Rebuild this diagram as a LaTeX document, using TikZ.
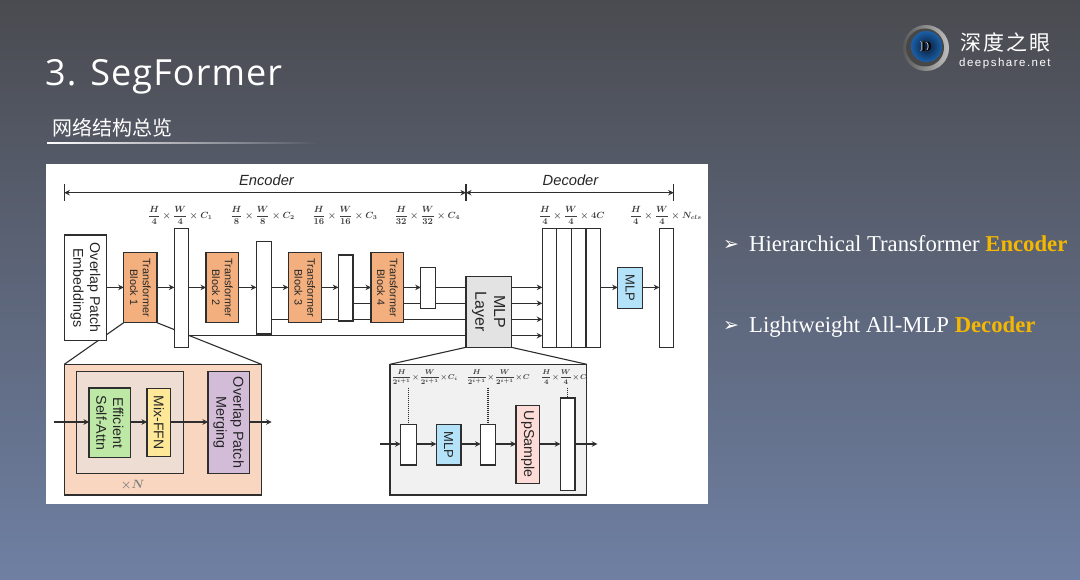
\documentclass[tikz,border=0pt]{standalone}
\usepackage{fontspec}
\usepackage{graphicx}
\setmainfont{Liberation Sans}
\newfontfamily\cjkfont{Noto Sans CJK SC}
\newfontfamily\serifface{Liberation Serif}
\newfontfamily\symface{DejaVu Sans}
\newfontfamily\titleface[LetterSpace=3]{Open Sans}
\newfontfamily\netface[LetterSpace=13]{Liberation Sans}
\newfontfamily\logoface[LetterSpace=10]{Noto Sans CJK SC}
\usetikzlibrary{arrows.meta,calc,backgrounds}
\AtBeginDocument{\boldmath}
\definecolor{bgtop}{HTML}{4A4B50}
\definecolor{bgbot}{HTML}{6F80A3}
\definecolor{ln}{HTML}{2E2E2E}
\definecolor{blockc}{HTML}{F3AF7E}
\definecolor{peach}{HTML}{F9D6BF}
\definecolor{innerc}{HTML}{EEDDD2}
\definecolor{greenc}{HTML}{BDE8A6}
\definecolor{yellowc}{HTML}{FFE999}
\definecolor{purplec}{HTML}{D3BCD8}
\definecolor{bluec}{HTML}{B3E2F9}
\definecolor{pinkc}{HTML}{FDDCD7}
\definecolor{layerc}{HTML}{E3E3E3}
\definecolor{panelc}{HTML}{F1F1F1}
\definecolor{hl}{HTML}{F5B800}
\definecolor{eyeo}{HTML}{1A5FA8}
\definecolor{eyei}{HTML}{0A1A33}
\tikzset{
  bxs/.style={draw=ln,line width=1.2pt,inner sep=0pt,outer sep=0pt,fill=white},
  txs/.style={rotate=-90,align=center,inner sep=0pt,text=black!85},
  ar/.style={draw=ln,line width=1.1pt,-{Stealth[length=5.5pt,width=5.5pt]}},
  pl/.style={draw=ln,line width=1.1pt},
  dots/.style={draw=ln,line width=1.1pt,dash pattern=on 1pt off 1pt},
  flab/.style={inner sep=0pt,text=black!75},
  ttl/.style={text=white,inner sep=0pt,anchor=base west},
  rtxt/.style={text=white,inner sep=0pt,anchor=base west,font=\serifface\fontsize{22.7}{26}\selectfont},
  bul/.style={text=white,inner sep=0pt,anchor=base west,font=\symface\fontsize{19}{22}\selectfont}
}
\newcommand{\bx}[8]{%
  \pgfmathsetmacro{\bxw}{#4-#2}\pgfmathsetmacro{\bxh}{#5-#3}%
  \pgfmathsetmacro{\bxcx}{(#2+#4)/2}\pgfmathsetmacro{\bxcy}{(#3+#5)/2}%
  \node[bxs,#6,minimum width=\bxw pt,minimum height=\bxh pt] (#1) at (\bxcx,\bxcy) {};%
  \if\relax\detokenize{#8}\relax\else
    \pgfmathsetmacro{\fsb}{#7*1.18}%
    \node[txs,font=\fontsize{#7}{\fsb}\selectfont] (#1T) at (\bxcx,\bxcy) {#8};\fi}
\newcommand{\lab}[4]{\node[flab] (#1) at (#2,#3) {\fontsize{8.6}{10}\selectfont$\displaystyle #4$};}
\newcommand{\labs}[4]{\node[flab] (#1) at (#2,#3) {\fontsize{7.2}{9}\selectfont$\displaystyle #4$};}
\begin{document}
\begin{tikzpicture}[x=1pt,y=-1pt]
\useasboundingbox (0,0) rectangle (1080,580);
\begin{pgfonlayer}{background}
\shade[top color=bgtop,bottom color=bgbot] (0,0) rectangle (1080,580);
\fill[white] (46,164) rectangle (708,504);
\end{pgfonlayer}
% header
\node[ttl,font=\titleface\fontsize{36}{40}\selectfont] (title) at (45,86) {3. SegFormer};
\node[ttl,font=\cjkfont\fontsize{20}{24}\selectfont] (sub) at (52,136) {网络结构总览};
\shade[left color=white,right color=bgtop!78!bgbot] (47,143) rectangle (320,144);
% logo
\shade[left color=black!65,right color=black!25] (926,48) circle (23);
\fill[black!72] (925,47.5) circle (19);
\shade[inner color=eyei,outer color=eyeo] (926.5,46.5) circle (15.5);
\node[inner sep=0pt,font=\serifface\bfseries\fontsize{15}{16}\selectfont,text=white] (logoDw) at (925.6,47) {D};
\node[inner sep=0pt,font=\serifface\bfseries\fontsize{15}{16}\selectfont,text=black] (logoD) at (926.2,47) {D};
\node[ttl,font=\logoface\fontsize{21}{25}\selectfont,anchor=west] (lg1) at (960,42) {深度之眼};
\node[ttl,font=\netface\fontsize{11.5}{14}\selectfont,anchor=west] (lg2) at (959,63.5) {deepshare.net};
% right text
\node[bul] (b1) at (723,251) {➢};
\node[rtxt] (r1) at (749,251.5) {Hierarchical Transformer {\bfseries\color{hl}Encoder}};
\node[bul] (b2) at (723,332) {➢};
\node[rtxt] (r2) at (749,332.5) {Lightweight All-MLP {\bfseries\color{hl}Decoder}};
% top row
\bx{ope}{64.3}{235}{106.3}{340.7}{}{14.2}{Overlap Patch\\Embeddings}
\bx{tb1}{123.7}{252.3}{157}{322.7}{fill=blockc}{10.8}{Transformer\\Block 1}
\bx{bar1}{174.3}{228.3}{188.7}{347.3}{}{1}{}
\bx{tb2}{206}{252.3}{238.7}{322.7}{fill=blockc}{10.8}{Transformer\\Block 2}
\bx{bar2}{256.3}{241.7}{271.7}{334}{}{1}{}
\bx{tb3}{288.3}{252.3}{321.3}{322.7}{fill=blockc}{10.8}{Transformer\\Block 3}
\bx{bar3}{338.3}{255}{353}{321}{}{1}{}
\bx{tb4}{371}{252.3}{403.7}{322.7}{fill=blockc}{10.8}{Transformer\\Block 4}
\bx{bar4}{420.7}{267.7}{435.3}{308.3}{}{1}{}
\bx{mlpl}{466}{276.7}{511.3}{347.3}{fill=layerc}{16}{MLP\\Layer}
\bx{st1}{542.3}{228.3}{556.7}{347.3}{}{1}{}
\bx{st2}{556.7}{228.3}{571.3}{347.3}{}{1}{}
\bx{st3}{571.3}{228.3}{586}{347.3}{}{1}{}
\bx{st4}{586}{228.3}{600.3}{347.3}{}{1}{}
\bx{mlpt}{617.7}{267.7}{642.3}{308.3}{fill=bluec}{13}{MLP}
\bx{fin}{659.3}{228.3}{673.7}{347.3}{}{1}{}
% span arrows
\coordinate (ya) at (0,192.7);
\coordinate (t1a) at (64.3,184); \coordinate (t1b) at (64.3,201);
\coordinate (t2a) at (466,184); \coordinate (t2b) at (466,201);
\coordinate (t3a) at (673.7,184); \coordinate (t3b) at (673.7,201);
\draw[pl] (t1a)--(t1b); \draw[pl] (t2a)--(t2b); \draw[pl] (t3a)--(t3b);
\draw[pl,{Stealth[length=5.5pt,width=5.5pt]}-{Stealth[length=5.5pt,width=5.5pt]}] (t1a|-ya)--(t2a|-ya);
\draw[pl,{Stealth[length=5.5pt,width=5.5pt]}-{Stealth[length=5.5pt,width=5.5pt]}] (t2a|-ya)--(t3a|-ya);
\node[inner sep=0pt,text=black!85,font=\itshape\fontsize{14.7}{16}\selectfont] (enc) at (266.5,180.5) {Encoder};
\node[inner sep=0pt,text=black!85,font=\itshape\fontsize{14.7}{16}\selectfont] (dec) at (570.5,180.5) {Decoder};
% dimension labels
\lab{l1}{180.3}{215.7}{\frac{H}{4}\times\frac{W}{4}\times C_1}
\lab{l2}{262.7}{215.7}{\frac{H}{8}\times\frac{W}{8}\times C_2}
\lab{l3}{345}{215.7}{\frac{H}{16}\times\frac{W}{16}\times C_3}
\lab{l4}{427.3}{215.7}{\frac{H}{32}\times\frac{W}{32}\times C_4}
\lab{l5}{571.7}{215.7}{\frac{H}{4}\times\frac{W}{4}\times 4C}
\lab{l6}{665.7}{215.7}{\frac{H}{4}\times\frac{W}{4}\times N_{cls}}
% flow lines
\coordinate (y1) at (0,287.4);
\coordinate (y2) at (0,303.3);
\coordinate (y3) at (0,319.3);
\coordinate (y4) at (0,335.7);
\draw[ar] (ope.east|-y1)--(tb1.west|-y1);
\draw[ar] (tb1.east|-y1)--(bar1.west|-y1);
\draw[ar] (bar1.east|-y1)--(tb2.west|-y1);
\draw[ar] (tb2.east|-y1)--(bar2.west|-y1);
\draw[ar] (bar2.east|-y1)--(tb3.west|-y1);
\draw[ar] (tb3.east|-y1)--(bar3.west|-y1);
\draw[ar] (bar3.east|-y1)--(tb4.west|-y1);
\draw[ar] (tb4.east|-y1)--(bar4.west|-y1);
\draw[pl] (bar4.east|-y1)--(mlpl.west|-y1);
\draw[pl] (bar3.east|-y2)--(tb4.west|-y2);
\draw[pl] (tb4.east|-y2)--(bar4.west|-y2);
\draw[pl] (bar4.east|-y2)--(mlpl.west|-y2);
\draw[pl] (bar2.east|-y3)--(tb3.west|-y3);
\draw[pl] (tb3.east|-y3)--(bar3.west|-y3);
\draw[pl] (bar3.east|-y3)--(tb4.west|-y3);
\draw[pl] (tb4.east|-y3)--(mlpl.west|-y3);
\draw[pl] (bar1.east|-y4)--(mlpl.west|-y4);
\draw[ar] (mlpl.east|-y1)--(st1.west|-y1);
\draw[ar] (mlpl.east|-y2)--(st1.west|-y2);
\draw[ar] (mlpl.east|-y3)--(st1.west|-y3);
\draw[ar] (mlpl.east|-y4)--(st1.west|-y4);
\draw[ar] (st4.east|-y1)--(mlpt.west|-y1);
\draw[ar] (mlpt.east|-y1)--(fin.west|-y1);
% lower left detail
\bx{bigl}{64.3}{364.3}{261.3}{495}{fill=peach}{1}{}
\bx{innr}{76.3}{371.7}{183.7}{473.3}{fill=innerc}{1}{}
\bx{eff}{89}{388}{130.7}{457.7}{fill=greenc}{14.2}{Efficient\\Self-Attn}
\bx{mix}{147}{388.7}{170.7}{456.3}{fill=yellowc}{14}{Mix-FFN}
\bx{mrg}{208}{371.7}{249.3}{473.3}{fill=purplec}{14.4}{Overlap Patch\\Merging}
\node[inner sep=0pt,text=black!50,font=\fontsize{13}{14}\selectfont] (xn) at (132.7,485.5) {$\times N$};
\coordinate (ly) at (0,422);
\coordinate (lin) at (54.3,422);
\coordinate (lout) at (271.7,422);
\draw[ar] (lin)--(eff.west|-ly);
\draw[ar] (eff.east|-ly)--(mix.west|-ly);
\draw[ar] (mix.east|-ly)--(mrg.west|-ly);
\draw[ar] (mrg.east|-ly)--(lout);
% lower right detail
\bx{bigr}{390}{364.3}{586.7}{495}{fill=panelc}{1}{}
\bx{ba}{400.7}{424.3}{416.7}{465}{}{1}{}
\bx{mlpb}{436.3}{424.3}{461}{465}{fill=bluec}{13}{MLP}
\bx{bb}{480.7}{424.3}{495.3}{465}{}{1}{}
\bx{ups}{516}{405.3}{539.7}{483.3}{fill=pinkc}{14.3}{UpSample}
\bx{bc}{560.3}{398}{575}{490.7}{}{1}{}
\labs{m1}{424.7}{377}{\frac{H}{2^{i+1}}\!\times\!\frac{W}{2^{i+1}}\!\times\! C_i}
\labs{m2}{498.3}{377}{\frac{H}{2^{i+1}}\!\times\!\frac{W}{2^{i+1}}\!\times\! C}
\labs{m3}{564}{377}{\frac{H}{4}\!\times\!\frac{W}{4}\!\times\! C}
\coordinate (ry) at (0,444);
\coordinate (rin) at (380,444);
\coordinate (rout) at (597.3,444);
\coordinate (dtop) at (0,387.7);
\draw[ar] (rin)--(ba.west|-ry);
\draw[ar] (ba.east|-ry)--(mlpb.west|-ry);
\draw[ar] (mlpb.east|-ry)--(bb.west|-ry);
\draw[ar] (bb.east|-ry)--(ups.west|-ry);
\draw[ar] (ups.east|-ry)--(bc.west|-ry);
\draw[ar] (bc.east|-ry)--(rout);
\draw[dots] (ba.north|-dtop)--(ba.north);
\draw[dots] (bb.north|-dtop)--(bb.north);
\draw[dots] (bc.north|-dtop)--(bc.north);
% zoom guide lines
\begin{pgfonlayer}{background}
\draw[pl] (tb1.south west)--(bigl.north west);
\draw[pl] (tb1.south east)--(bigl.north east);
\draw[pl] (mlpl.south west)--(bigr.north west);
\draw[pl] (mlpl.south east)--(bigr.north east);
\end{pgfonlayer}
\end{tikzpicture}
\end{document}
